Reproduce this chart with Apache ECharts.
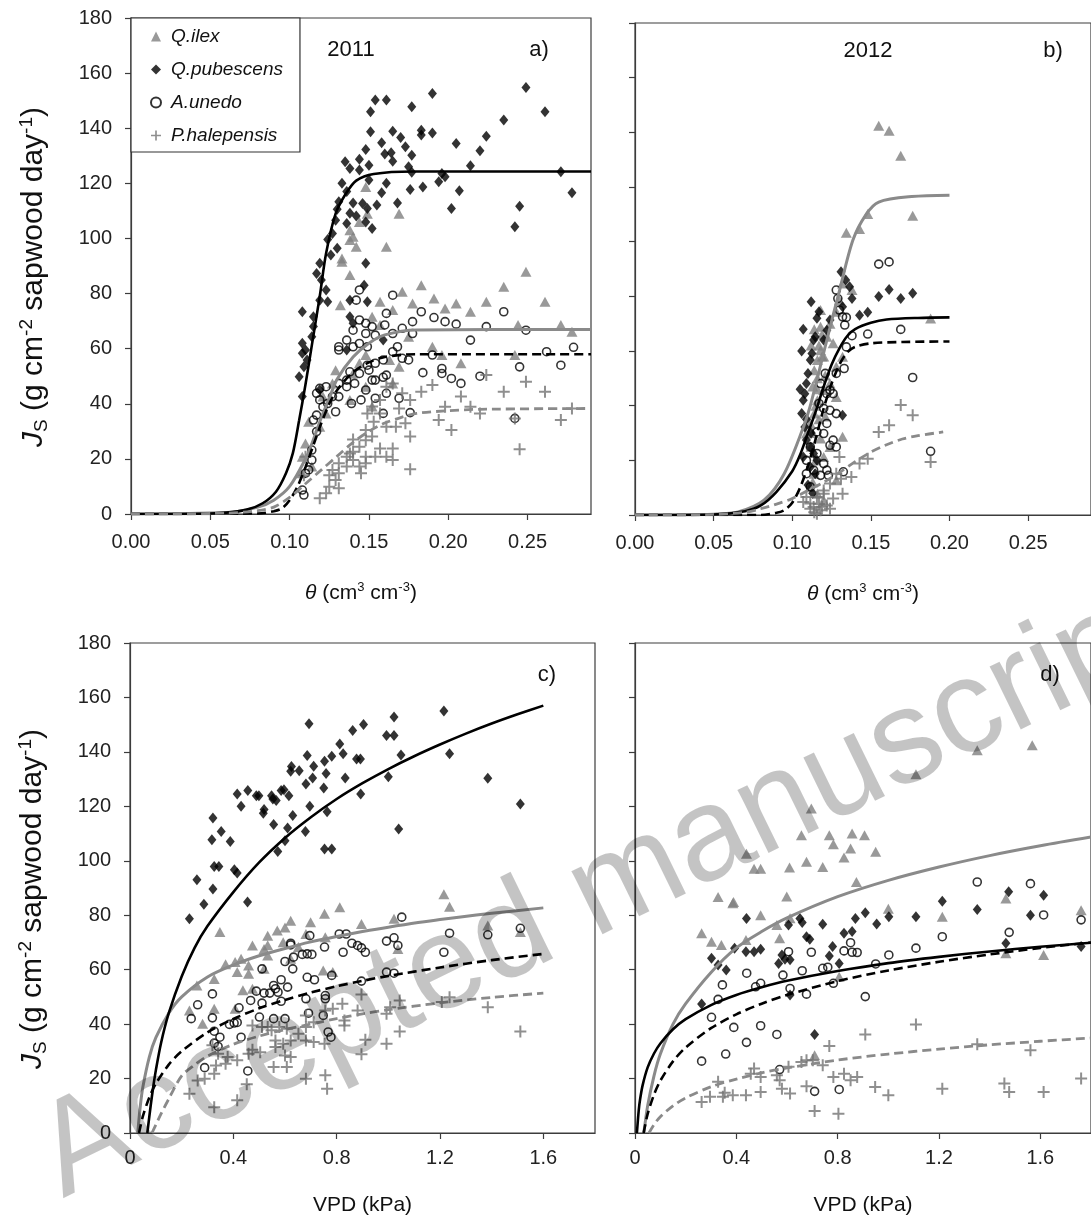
<!DOCTYPE html>
<html><head><meta charset="utf-8">
<script src="https://cdn.jsdelivr.net/npm/echarts@6/dist/echarts.min.js"></script>
<style>html,body{margin:0;padding:0;background:#fff}#c{width:1091px;height:1227px}</style>
</head><body><div id="c"></div>
<script>
// ---------- labels / ticks ----------
const speciesNames = ['Q.ilex', 'Q.pubescens', 'A.unedo', 'P.halepensis'];
const thetaTicks = [0, 0.05, 0.10, 0.15, 0.20, 0.25];
const vpdTicks = [0, 0.4, 0.8, 1.2, 1.6];
const jsTicks = [0, 20, 40, 60, 80, 100, 120, 140, 160, 180];
const panelYears = ['2011', '2012'];
const panelLetters = ['a)', 'b)', 'c)', 'd)'];

// ---------- panel a (2011, theta) ----------
const a_ilex = [[0.169,109],[0.140,100.6],[0.138,103],[0.144,106],[0.149,109],[0.148,118.7],[0.133,92.7],[0.138,99.4],[0.142,97],[0.161,97],[0.133,91.5],[0.138,86.7],[0.132,75.8],[0.157,77],[0.171,80.7],[0.183,83],[0.191,78.2],[0.198,74.6],[0.205,76.4],[0.214,73.4],[0.224,77],[0.235,82.5],[0.249,87.9],[0.261,77],[0.244,68.6],[0.271,68.6],[0.278,66.1],[0.1775,76.4],[0.165,74],[0.152,71.6],[0.157,68.6],[0.190,60.7],[0.208,54.7],[0.242,57.7],[0.196,57.7],[0.175,64.3],[0.169,53.4],[0.163,55.9],[0.148,57.7],[0.144,54.7],[0.140,51],[0.148,46.2],[0.138,41.4],[0.127,47.4],[0.121,42.6],[0.123,36.5],[0.112,33.5],[0.119,31.7],[0.110,25.6],[0.108,20.8],[0.107,14.8],[0.114,17.2],[0.152,39],[0.129,52.2],[0.165,47.4]];
const a_pub = [[0.249,154.8],[0.261,146],[0.235,143],[0.190,152.6],[0.154,150.2],[0.161,150.2],[0.151,146],[0.177,147.8],[0.183,139.3],[0.183,137.5],[0.190,138.3],[0.151,138.7],[0.165,138.9],[0.158,134.7],[0.170,136.6],[0.173,133.3],[0.205,134.5],[0.224,137.1],[0.220,131.8],[0.214,126.4],[0.148,132.3],[0.160,130.6],[0.164,131.1],[0.165,128],[0.177,130.2],[0.144,128.7],[0.135,127.8],[0.150,126.6],[0.138,125.4],[0.144,124.8],[0.175,126],[0.177,124],[0.196,123.6],[0.198,122.4],[0.194,120.6],[0.150,121.2],[0.133,120],[0.161,120],[0.136,117],[0.158,116.6],[0.176,117.8],[0.184,118.7],[0.207,117.3],[0.271,124.2],[0.278,116.6],[0.131,113.3],[0.140,112.9],[0.146,112.7],[0.149,110.9],[0.155,112.1],[0.168,112.9],[0.202,110.9],[0.245,111.7],[0.130,110.6],[0.138,109.1],[0.142,108.1],[0.129,106.6],[0.136,105.4],[0.148,106],[0.152,103.6],[0.242,104.2],[0.127,101.8],[0.124,99.6],[0.130,96.4],[0.126,94],[0.119,91],[0.117,87.3],[0.120,84.9],[0.148,91],[0.123,81.3],[0.119,77.6],[0.124,77],[0.147,83],[0.138,77.6],[0.149,77],[0.115,71.6],[0.138,71.6],[0.140,69.2],[0.108,73.4],[0.115,68],[0.114,64.3],[0.108,62],[0.110,59.5],[0.108,58.3],[0.111,55.9],[0.109,53.4],[0.106,49.8],[0.108,42.6],[0.159,63.1],[0.136,59.5],[0.119,45]];
const a_unedo = [[0.165,79.4],[0.144,81.3],[0.142,77.6],[0.161,72.8],[0.183,73.4],[0.191,71.3],[0.198,69.8],[0.205,68.9],[0.224,68],[0.235,73.4],[0.249,66.7],[0.262,58.9],[0.279,60.5],[0.271,54],[0.245,53.4],[0.214,63.1],[0.220,50],[0.202,49.2],[0.196,51],[0.196,52.8],[0.190,57.7],[0.184,51.3],[0.208,47.4],[0.1775,69.8],[0.171,67.4],[0.1775,65.5],[0.175,55.9],[0.171,56.5],[0.168,60.7],[0.165,58.9],[0.159,55.9],[0.161,50.4],[0.154,48.6],[0.152,48.6],[0.148,45],[0.154,42],[0.145,41.4],[0.139,40.1],[0.161,43.8],[0.169,42],[0.176,36.8],[0.159,36.5],[0.150,52.2],[0.154,54.7],[0.149,54],[0.144,51],[0.138,51.6],[0.136,48.6],[0.141,47.4],[0.136,46.2],[0.131,47.4],[0.131,42.6],[0.127,42.6],[0.129,37.1],[0.124,40.1],[0.123,46.2],[0.119,45.6],[0.117,43.8],[0.119,41.4],[0.121,38.9],[0.117,35.9],[0.115,34.1],[0.117,29.9],[0.114,23.2],[0.114,19.6],[0.112,16],[0.110,14.8],[0.108,8.7],[0.109,6.9],[0.144,70.4],[0.148,69.2],[0.152,68],[0.148,65.5],[0.154,64.9],[0.140,66.7],[0.136,63.1],[0.131,60.7],[0.131,59.5],[0.140,60.7],[0.144,61.9],[0.149,60.7],[0.160,68.6],[0.165,65.5],[0.242,34.7],[0.159,49.6]];
const a_hal = [[0.224,50.4],[0.249,48],[0.235,44.4],[0.261,44.4],[0.278,38.3],[0.271,34.1],[0.242,34.7],[0.245,23.5],[0.202,30.5],[0.194,34.1],[0.198,38.9],[0.208,42.6],[0.214,38.9],[0.220,36.5],[0.190,46.8],[0.183,44.4],[0.176,41.4],[0.176,28.1],[0.176,16.2],[0.171,43.8],[0.165,47.4],[0.161,46.2],[0.157,41.4],[0.152,39],[0.149,36.5],[0.157,36.5],[0.161,31.7],[0.167,31.7],[0.173,32.9],[0.169,38.3],[0.153,33.5],[0.148,30.5],[0.152,28.1],[0.148,26.8],[0.144,24.4],[0.140,22.6],[0.136,20.8],[0.131,18.4],[0.127,16],[0.125,14.1],[0.129,12.3],[0.131,9.3],[0.123,7.5],[0.119,5.7],[0.140,19.6],[0.144,17.2],[0.148,20.8],[0.140,27],[0.138,22],[0.136,17.2],[0.131,14.8],[0.157,23.8],[0.161,20.8],[0.165,19.6],[0.165,23.8],[0.154,20.8],[0.148,18.4],[0.145,14.8],[0.125,9.9],[0.109,14.1],[0.110,20.8]];
const a_fit_ilex = [[0,0],[0.06,0.5],[0.08,2.5],[0.09,5],[0.10,10],[0.11,20],[0.115,27],[0.12,35],[0.125,42],[0.13,49],[0.14,57],[0.15,62],[0.16,65],[0.18,66.8],[0.29,67]];
const a_fit_pub = [[0,0],[0.05,0.2],[0.0725,1.5],[0.083,3.9],[0.0914,8.1],[0.0977,14.8],[0.102,22],[0.106,34],[0.110,47],[0.1145,63],[0.119,79],[0.123,94.6],[0.129,109],[0.1355,116.3],[0.142,121],[0.153,123.4],[0.178,124.3],[0.29,124.3]];
const a_fit_unedo = [[0,0],[0.08,0.2],[0.09,1],[0.095,2],[0.10,5],[0.105,10],[0.11,17],[0.115,25],[0.12,33],[0.125,40],[0.13,45],[0.14,51.5],[0.15,55],[0.16,57],[0.18,58],[0.29,58]];
const a_fit_hal = [[0,0],[0.06,0.3],[0.08,1.2],[0.09,2.5],[0.10,6],[0.11,11],[0.12,16],[0.13,21],[0.14,26],[0.15,30],[0.16,33],[0.17,35],[0.18,36.5],[0.20,37.5],[0.22,38],[0.29,38.3]];

// ---------- panel b (2012, theta) ----------
const b_ilex = [[0.155,142.4],[0.1616,140.6],[0.169,131.4],[0.1766,109.5],[0.1344,103.3],[0.1428,104.6],[0.148,110.1],[0.188,71.9],[0.138,82.3],[0.132,84.7],[0.130,78.6],[0.128,74.4],[0.124,70],[0.118,68.9],[0.122,65.2],[0.126,62.8],[0.132,57.9],[0.118,60.3],[0.116,56.7],[0.114,53],[0.128,54.2],[0.128,43.2],[0.124,48.1],[0.120,45.7],[0.116,42],[0.114,37.1],[0.1115,33.5],[0.109,29.8],[0.132,28.6],[0.124,24.9],[0.120,21.2],[0.114,15.1],[0.1115,10.3],[0.116,7.8],[0.120,5.4],[0.128,12.7],[0.112,62],[0.119,58],[0.113,47],[0.121,51],[0.117,35],[0.112,25],[0.113,30],[0.115,40],[0.116,50],[0.117,62],[0.114,68],[0.118,75],[0.120,58],[0.115,20],[0.113,12],[0.118,28],[0.121,36],[0.119,66],[0.116,46]];
const b_pub = [[0.131,89],[0.134,86],[0.138,79.2],[0.155,79.9],[0.1616,82.5],[0.169,79.2],[0.1766,81.1],[0.1428,73.1],[0.148,74.2],[0.117,74.4],[0.1157,72],[0.1146,65.2],[0.1136,64],[0.1125,59.1],[0.1115,56.7],[0.110,51.8],[0.109,48.1],[0.108,44.4],[0.107,42],[0.106,37.1],[0.108,32.2],[0.109,27.4],[0.1115,24.9],[0.1136,22.5],[0.107,21.2],[0.1157,20],[0.1115,17.6],[0.1146,15.1],[0.132,36.5],[0.120,64],[0.124,71.3],[0.132,76.2],[0.1365,83.5],[0.122,67.6],[0.112,30],[0.110,11],[0.113,8],[0.106,60],[0.107,68],[0.109,35],[0.112,78],[0.105,46]];
const b_unedo = [[0.155,91.8],[0.1616,92.6],[0.169,67.9],[0.1766,50.3],[0.188,23.3],[0.148,66.2],[0.138,65.6],[0.1344,72.3],[0.128,82.3],[0.129,79.2],[0.130,75],[0.132,72.5],[0.1334,69.5],[0.1344,61.5],[0.133,53.6],[0.128,51.8],[0.121,51.8],[0.124,45.7],[0.118,48.1],[0.122,44.4],[0.126,44.4],[0.117,40.8],[0.120,39],[0.124,38.3],[0.128,37.1],[0.122,33.5],[0.1157,30.4],[0.120,29.8],[0.126,27.4],[0.124,25.5],[0.128,24.9],[0.1115,24.9],[0.109,20],[0.120,18.8],[0.122,16.4],[0.118,14.5],[0.123,14.5],[0.1115,10.3],[0.1325,15.8],[0.1136,16.4],[0.109,15.1],[0.1157,22.5]];
const b_hal = [[0.169,40.2],[0.1766,36.5],[0.1616,32.8],[0.155,30.4],[0.188,19.4],[0.148,20.6],[0.1428,18.8],[0.1376,13.9],[0.132,7.8],[0.130,21.2],[0.128,15.1],[0.124,11.5],[0.120,9],[0.1157,6.6],[0.1115,4.2],[0.1136,2.9],[0.118,1.7],[0.122,3.5],[0.109,6.6],[0.107,4.8],[0.126,6],[0.124,2.3],[0.1157,0.5],[0.1115,2.3],[0.120,7.8],[0.131,13.3],[0.117,4],[0.114,1],[0.119,3]];
const b_fit_ilex = [[0,0],[0.05,0.3],[0.0656,1.1],[0.082,5.4],[0.0948,15],[0.107,32],[0.1115,40],[0.122,64],[0.130,82],[0.1386,100.6],[0.147,110],[0.155,114.5],[0.176,116.5],[0.2,117]];
const b_fit_pub = [[0,0],[0.05,0.2],[0.07,1.4],[0.08,3.5],[0.09,8.5],[0.10,16],[0.105,22],[0.11,30],[0.115,38],[0.12,47],[0.125,55],[0.13,61],[0.135,65.5],[0.14,68],[0.15,70.3],[0.16,71.5],[0.18,72.1],[0.2,72.3]];
const b_fit_unedo = [[0,0],[0.08,0],[0.09,0.8],[0.095,1.8],[0.10,4.5],[0.105,10],[0.11,18],[0.115,28],[0.12,39],[0.125,48],[0.13,55],[0.135,59.5],[0.14,61.5],[0.15,62.8],[0.17,63.3],[0.2,63.5]];
const b_fit_hal = [[0,0],[0.05,0.2],[0.07,1],[0.08,2.3],[0.09,4],[0.10,6],[0.11,9],[0.12,12],[0.13,15.5],[0.14,19.5],[0.15,23],[0.16,25.7],[0.17,27.8],[0.18,29],[0.196,30.4]];

// ---------- panel c (2011, VPD) ----------
const c_ilex = [[1.215,87.7],[1.237,83.1],[0.812,82.9],[0.753,80.5],[1.022,78.7],[0.622,78],[0.699,77.4],[0.896,76.8],[0.348,73.8],[0.570,74.4],[0.533,72.5],[0.681,73.1],[0.756,71.9],[0.474,68.9],[0.519,67.6],[0.43,64],[0.407,62.8],[0.459,61.5],[0.533,65.2],[0.622,64],[0.519,60.3],[0.459,58.5],[0.415,59.1],[0.785,59.1],[0.748,59.7],[0.326,56.6],[0.259,54.2],[0.474,53],[0.437,52.4],[0.407,45.6],[0.326,45.6],[0.23,45],[0.281,40.1],[1.037,67.6],[1.385,76.2],[1.511,73.8],[0.533,69],[0.593,70.1],[0.652,68.3],[0.60,75.5],[0.37,62]];
const c_pub = [[1.215,155],[1.022,152.8],[0.904,150.1],[0.693,150.3],[0.862,147.9],[0.993,146],[1.022,146],[0.812,142.9],[0.825,139.3],[1.049,138.9],[1.237,139.3],[0.781,138.4],[0.753,136.6],[0.686,138.7],[0.877,137.4],[0.892,137.4],[0.711,134.7],[0.625,134.6],[0.655,133.1],[0.622,132.9],[0.759,132.1],[0.707,130.4],[0.833,130.4],[1.0,130.9],[1.385,130.3],[0.681,128.2],[0.750,126.7],[0.893,124.5],[0.415,124.5],[0.456,125.8],[0.489,123.9],[0.499,123.9],[0.548,123.9],[0.596,126.1],[0.585,125.8],[0.553,122.7],[0.615,123.9],[0.566,122.1],[0.696,120],[0.43,120],[1.511,120.9],[0.519,118.8],[0.516,117.5],[0.763,118],[0.63,116.6],[0.321,115.7],[0.556,113.3],[1.04,111.7],[0.353,110.8],[0.388,107.1],[0.60,107.4],[0.61,112],[0.317,107.7],[0.679,110.8],[0.572,103.4],[0.753,104.3],[0.781,104.3],[0.326,97.9],[0.344,97.9],[0.404,96.7],[0.415,95.5],[0.259,93],[0.321,89.6],[0.286,84],[0.455,84.9],[0.23,78.7]];
const c_unedo = [[1.052,79.3],[1.511,75.2],[1.385,72.8],[1.237,73.4],[1.215,66.4],[0.81,73.1],[0.837,73.1],[0.696,72.5],[0.622,69.7],[0.622,69.1],[0.859,69.7],[0.881,68.9],[0.896,68],[0.911,66.4],[0.993,70.5],[1.022,71.7],[1.037,68.9],[0.825,66.4],[0.753,68.3],[0.667,65.6],[0.686,65.8],[0.704,65.6],[0.633,64.6],[0.63,60.3],[0.60,63],[0.511,60.3],[0.781,57.9],[0.686,57.2],[0.714,56.3],[0.993,59.1],[1.022,58.7],[0.896,55.8],[0.489,52.1],[0.519,51.4],[0.541,51.4],[0.556,54.2],[0.563,53],[0.585,56.3],[0.61,53.6],[0.573,51.7],[0.585,48.4],[0.467,48.7],[0.422,46],[0.511,47.7],[0.319,51.1],[0.262,47.1],[0.237,42],[0.319,42.3],[0.385,39.9],[0.403,40.4],[0.415,40.6],[0.501,42.6],[0.556,42],[0.60,42],[0.681,49.3],[0.691,44],[0.756,50.5],[0.756,49.3],[0.748,43.2],[0.767,37.1],[0.778,35.2],[0.326,37.4],[0.326,33],[0.348,35.2],[0.341,31.8],[0.43,35.2],[0.289,24],[0.456,22.8]];
const c_hal = [[1.237,49.9],[0.896,50.9],[0.822,47.5],[1.044,48.7],[1.385,46.2],[1.007,46.2],[0.785,45.6],[0.756,45],[0.881,45],[0.993,43.8],[1.207,48.1],[1.044,37.3],[1.511,37.3],[0.911,34.3],[0.993,32.8],[0.896,28.9],[0.681,43.2],[0.711,40.7],[0.681,38.9],[0.652,36.5],[0.681,34],[0.711,33.4],[0.753,32.8],[0.83,39.5],[0.83,41.3],[0.622,34],[0.593,32.8],[0.563,34],[0.533,38.9],[0.474,39.5],[0.511,38.9],[0.578,38.9],[0.607,38.3],[0.548,37.7],[0.622,27.9],[0.60,28.5],[0.607,24.2],[0.556,24.2],[0.681,19.9],[0.756,21.2],[0.763,16.3],[0.459,29.1],[0.415,26.7],[0.37,25.4],[0.333,24.8],[0.326,21.8],[0.289,19.9],[0.262,19.3],[0.23,14.4],[0.452,17.9],[0.415,12],[0.326,9.5],[0.341,29.1],[0.319,32.2],[0.474,30.6],[0.504,29.7],[0.378,27.9],[0.563,31.6]];
const c_fit_ilex = [[0.03,0],[0.04,10],[0.05,17],[0.075,28],[0.1,35],[0.15,44],[0.2,50],[0.3,57.3],[0.4,61.7],[0.5,65.1],[0.6,67.8],[0.7,70.2],[0.8,72.2],[0.9,74],[1.0,75.6],[1.2,78.4],[1.4,80.7],[1.6,82.7]];
const c_fit_pub = [[0.067,0],[0.08,10],[0.09,17],[0.1,23],[0.12,33],[0.15,44],[0.2,57.5],[0.25,68],[0.3,76],[0.4,88.5],[0.5,99.4],[0.6,108.4],[0.7,116],[0.8,122.7],[0.9,128.5],[1.0,133.7],[1.1,138.4],[1.2,142.7],[1.3,146.7],[1.4,150.4],[1.5,153.8],[1.6,157]];
const c_fit_unedo = [[0.035,0],[0.05,6.2],[0.075,13.1],[0.1,18.1],[0.15,25.1],[0.2,30],[0.3,37],[0.4,41.9],[0.5,45.8],[0.6,48.9],[0.7,51.6],[0.8,53.9],[0.9,55.9],[1.0,57.7],[1.2,60.8],[1.4,63.5],[1.6,65.8]];
const c_fit_hal = [[0.085,0],[0.1,3],[0.12,7],[0.15,12.5],[0.2,21],[0.25,25],[0.3,28.2],[0.4,32.6],[0.5,35.6],[0.6,38],[0.7,40],[0.8,42],[0.9,43.8],[1.0,45.3],[1.2,47.8],[1.4,49.8],[1.6,51.4]];

// ---------- panel d (2012, VPD) ----------
const d_ilex = [[1.568,142.4],[1.351,140.6],[1.109,131.8],[0.696,119.2],[0.657,109.4],[0.767,109.4],[0.857,110],[0.906,109.4],[0.783,106.1],[0.851,104.5],[0.44,102.6],[0.95,103.3],[0.825,101.2],[0.677,99.6],[0.741,97.7],[0.47,97.1],[0.496,97.1],[0.61,97.5],[0.874,92.2],[0.328,86.7],[0.389,84.9],[0.599,86.9],[1.0,82.4],[1.464,86.1],[1.761,81.8],[0.496,80],[1.213,79.4],[0.263,73.4],[0.302,70.3],[0.341,69.1],[0.386,84.4],[0.56,76.4],[0.612,78.9],[0.571,71.5],[1.464,66],[1.613,65.4],[0.806,57.4],[0.709,28.6],[0.438,70.9]];
const d_pub = [[1.475,88.6],[1.613,87.3],[1.213,85.1],[1.351,82.1],[1.561,80],[0.909,80.9],[1.002,79.4],[1.109,79.4],[0.44,78.8],[0.87,78.8],[0.651,78.8],[0.66,77.3],[0.741,76.7],[0.606,76.4],[0.954,76.8],[0.857,74],[0.825,73.4],[0.767,65],[0.78,68.5],[0.806,62.3],[0.677,72.1],[0.69,71.2],[0.393,67.9],[0.438,66.6],[0.47,66.6],[0.496,67.5],[0.58,65.4],[0.592,63.8],[0.612,63.6],[0.567,62.3],[0.302,64.2],[0.328,61.7],[0.36,59.9],[1.464,69.7],[1.761,68.5],[0.263,47.4],[0.709,36.2],[0.612,50.7]];
const d_unedo = [[1.351,92.2],[1.561,91.6],[1.613,80.1],[1.761,78.3],[1.477,73.7],[1.213,72.1],[1.109,67.9],[1.002,65.4],[0.851,69.9],[0.825,66.9],[0.857,66.4],[0.877,66.3],[0.606,66.6],[0.696,66.4],[0.95,62.1],[0.66,59.6],[0.741,60.5],[0.761,60.9],[0.441,58.7],[0.584,58],[0.476,53.7],[0.496,55],[0.612,53.1],[0.677,51],[0.783,55],[0.909,50.1],[0.345,54.4],[0.328,49.1],[0.302,42.5],[0.39,38.8],[0.496,39.4],[0.56,36.2],[0.44,33.3],[0.358,29],[0.263,26.4],[0.571,23.3],[0.709,15.3],[0.806,16]];
const d_hal = [[1.109,39.9],[0.909,36.2],[0.767,32],[1.351,32.6],[1.561,30.4],[0.47,23.7],[0.496,20.6],[0.457,21.8],[0.56,21.2],[0.571,19.4],[0.606,24.3],[0.657,26.1],[0.677,26.7],[0.741,24.9],[0.702,26.7],[0.783,20.6],[0.825,21.8],[0.851,19.4],[0.877,20.6],[0.328,18.8],[0.263,11.4],[0.296,13.3],[0.347,13.3],[0.386,13.9],[0.438,13.9],[0.496,15.1],[0.58,16.3],[0.612,14.5],[0.677,17.2],[0.709,8.1],[0.803,7.1],[0.948,16.9],[1.0,13.9],[1.213,16.3],[1.458,18.2],[1.477,15.1],[1.613,15.1],[1.761,20],[0.354,14.8]];
const d_fit_ilex = [[0.035,0],[0.05,10],[0.075,21],[0.1,29],[0.15,40],[0.2,47.5],[0.3,59],[0.4,68],[0.5,74],[0.6,79],[0.8,86.8],[1.0,92.8],[1.2,97.7],[1.4,101.9],[1.6,105.5],[1.8,108.7]];
const d_fit_pub = [[0.0075,0],[0.015,8.6],[0.02,12.3],[0.03,17.5],[0.05,24.1],[0.075,29.2],[0.1,32.9],[0.15,38.1],[0.2,41.8],[0.3,47],[0.4,50.7],[0.5,53.5],[0.6,55.9],[0.8,59.5],[1.0,62.4],[1.2,64.7],[1.4,66.7],[1.6,68.4],[1.8,69.9]];
const d_fit_unedo = [[0.034,0],[0.05,7],[0.075,14.1],[0.1,19.2],[0.15,26.3],[0.2,31.4],[0.3,38.5],[0.4,43.6],[0.5,47.5],[0.6,50.7],[0.8,55.8],[1.0,59.7],[1.2,62.9],[1.4,65.6],[1.6,68],[1.8,70]];
const d_fit_hal = [[0.055,0],[0.075,3.1],[0.1,6],[0.15,10],[0.2,12.9],[0.3,17],[0.4,19.8],[0.5,22.1],[0.6,23.9],[0.8,26.8],[1.0,29],[1.2,30.8],[1.4,32.4],[1.6,33.7],[1.8,34.9]];

// ---------- build ----------
const FONT = 'Liberation Sans, Arial, sans-serif';
const AX = '#3c3c3c';
const GRAY_L = '#8a8a8a';
const PLUS = 'path://M5,0H7V5H12V7H7V12H5V7H0V5H5Z';

const panels = [
  {scat:[a_ilex,a_pub,a_unedo,a_hal], fit:[a_fit_ilex,a_fit_pub,a_fit_unedo,a_fit_hal]},
  {scat:[b_ilex,b_pub,b_unedo,b_hal], fit:[b_fit_ilex,b_fit_pub,b_fit_unedo,b_fit_hal]},
  {scat:[c_ilex,c_pub,c_unedo,c_hal], fit:[c_fit_ilex,c_fit_pub,c_fit_unedo,c_fit_hal]},
  {scat:[d_ilex,d_pub,d_unedo,d_hal], fit:[d_fit_ilex,d_fit_pub,d_fit_unedo,d_fit_hal]}
];

const scatStyle = [
  {symbol:'triangle', symbolSize:[11,10], itemStyle:{color:'#808080'}},
  {symbol:'diamond', symbolSize:[9,11], itemStyle:{color:'#000'}},
  {symbol:'circle', symbolSize:8, itemStyle:{color:'transparent', borderColor:'#000', borderWidth:1.6}},
  {symbol:PLUS, symbolSize:12, itemStyle:{color:'#737373'}}
];
const fitStyle = [
  {color:GRAY_L, width:3, type:'solid'},
  {color:'#000', width:2.6, type:'solid'},
  {color:'#000', width:2.6, type:[9,5]},
  {color:GRAY_L, width:2.8, type:[9,5]}
];

const grids = [
  {left:131, top:18, width:460, height:496},
  {left:635, top:23, width:463, height:492},
  {left:130, top:643, width:465, height:490},
  {left:635, top:643, width:465, height:490}
].map(g => Object.assign(g, {show:true, borderColor:AX, borderWidth:1.2, backgroundColor:'transparent'}));

const yNameRich = {
  t:{fontSize:30, fontFamily:FONT, color:'#111', lineHeight:34},
  j:{fontSize:30, fontFamily:FONT, color:'#111', fontStyle:'italic', lineHeight:34},
  sub:{fontSize:19, fontFamily:FONT, color:'#111', lineHeight:17, verticalAlign:'bottom'},
  sup:{fontSize:19, fontFamily:FONT, color:'#111', lineHeight:17, verticalAlign:'top'}
};
const xNameRich = {
  t:{fontSize:21, fontFamily:FONT, color:'#111', lineHeight:24},
  i:{fontSize:21, fontFamily:FONT, color:'#111', fontStyle:'italic', lineHeight:24},
  sup:{fontSize:13, fontFamily:FONT, color:'#111', lineHeight:12, verticalAlign:'top'}
};

function xAxisFor(i) {
  const isTheta = i < 2;
  const ticks = isTheta ? thetaTicks : vpdTicks;
  return {
    type:'value', gridIndex:i, min:0, max: isTheta ? 0.29 : 1.8,
    axisLine:{show:true, onZero:false, lineStyle:{color:AX, width:1.2}},
    axisTick:{show:true, length:6, inside:false, customValues:ticks, lineStyle:{color:AX, width:1.2}},
    axisLabel:{customValues:ticks, fontSize:20, color:'#222', fontFamily:FONT, margin: isTheta ? 18 : 15,
      formatter: v => isTheta ? v.toFixed(2) : (v === 0 ? '0' : v.toFixed(1))},
    splitLine:{show:false},
    name: isTheta ? '{i|θ}{t| (cm}{sup|3}{t| cm}{sup|-3}{t|)}' : '{t|VPD (kPa)}',
    nameLocation:'middle', nameGap: isTheta ? 67 : 60,
    nameTextStyle:{rich:xNameRich}
  };
}
function yAxisFor(i) {
  const showLab = (i === 0 || i === 2);
  return {
    type:'value', gridIndex:i, min:0, max:180, interval:20,
    axisLine:{show:true, onZero:false, lineStyle:{color:AX, width:1.2}},
    axisTick:{show:true, length:6, inside:false, customValues:jsTicks, lineStyle:{color:AX, width:1.2}},
    axisLabel:{show:showLab, customValues:jsTicks, fontSize:20, color:'#222', fontFamily:FONT, margin:19},
    splitLine:{show:false},
    name: showLab ? '{j|J}{sub|S}{t| (g cm}{sup|-2}{t| sapwood day}{sup|-1}{t|)}' : '',
    nameLocation:'middle', nameGap:80, nameRotate:90,
    nameTextStyle:{rich:yNameRich, padding:[0,22,0,0]}
  };
}

const series = [];
panels.forEach((p, i) => {
  p.scat.forEach((data, s) => {
    series.push(Object.assign({
      type:'scatter', name:speciesNames[s], xAxisIndex:i, yAxisIndex:i, data:data,
      z:2, silent:true
    }, scatStyle[s]));
  });
  p.fit.forEach((data, s) => {
    series.push({
      type:'line', xAxisIndex:i, yAxisIndex:i, data:data, showSymbol:false, symbol:'none',
      smooth:0.3, lineStyle:fitStyle[s], z:3, silent:true, clip:true
    });
  });
});

function label(text, x, y, size) {
  return {type:'text', x:x, y:y, z:50, style:{text:text, fontSize:size, fontFamily:FONT, fill:'#111', textAlign:'center', textVerticalAlign:'middle'}};
}

const option = {
  animation:false,
  backgroundColor:'#fff',
  textStyle:{fontFamily:FONT},
  grid:grids,
  xAxis:[0,1,2,3].map(xAxisFor),
  yAxis:[0,1,2,3].map(yAxisFor),
  legend:{
    data:speciesNames, left:131, top:18, orient:'vertical', selectedMode:false,
    itemWidth:10, itemHeight:10, itemGap:14, padding:[9,17,7,19],
    borderColor:'#333', borderWidth:1.2, backgroundColor:'#fff', z:20,
    textStyle:{fontSize:19, fontStyle:'italic', color:'#111', fontFamily:FONT, padding:[0,0,0,5]}
  },
  series:series,
  graphic:[
    label(panelYears[0], 351, 50, 22), label(panelLetters[0], 539, 50, 22),
    label(panelYears[1], 868, 51, 22), label(panelLetters[1], 1053, 51, 22),
    label(panelLetters[2], 547, 675, 22), label(panelLetters[3], 1050, 675, 22),
    {type:'text', x:76, y:1225, rotation:0.455, z:100, silent:true,
      style:{text:'Accepted manuscript', fontSize:133, fontFamily:FONT, fill:'rgba(0,0,0,0.23)', textAlign:'left', textVerticalAlign:'bottom'}}
  ]
};

const chart = echarts.init(document.getElementById('c'), null, {renderer:'canvas'});
chart.setOption(option);
</script>
</body></html>
